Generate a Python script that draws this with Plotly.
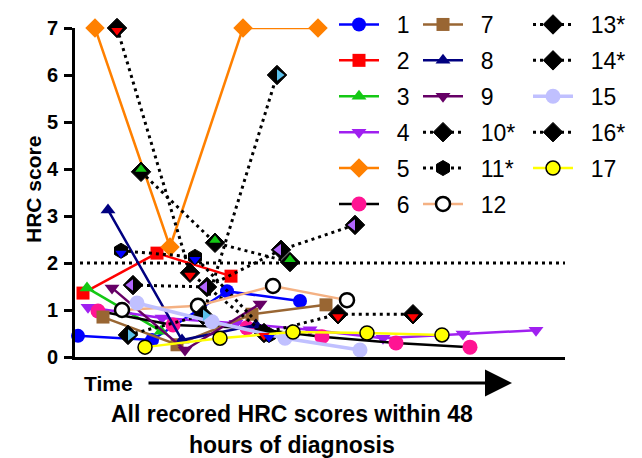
import plotly.graph_objects as go

# ---- data: time position (arbitrary hours-like units) and HRC score ----
T1 = [0.3, 7.7, 15.2, 22.5];            Y1 = [0.45, 0.36, 1.40, 1.19]
T2 = [0.8, 8.2, 15.6];                  Y2 = [1.36, 2.21, 1.72]
T3 = [1.2, 8.6];                        Y3 = [1.47, 0.55]
T4 = [1.3, 8.7, 16.1, 23.5, 30.8, 38.8, 46.1]; Y4 = [1.06, 0.83, 0.72, 0.58, 0.40, 0.49, 0.57]
T5 = [2.0, 9.5, 16.8, 24.3];            Y5 = [7.0, 2.34, 7.0, 7.0]
T6 = [2.3, 9.8, 17.2, 24.7, 32.1, 39.5]; Y6 = [0.98, 0.68, 0.62, 0.43, 0.30, 0.21]
T7 = [2.8, 10.2, 17.7, 25.1];           Y7 = [0.85, 0.26, 0.91, 1.11]
T8 = [3.3, 10.7, 18.1];                 Y8 = [3.13, 0.36, 0.68]
T9 = [3.7, 11.0, 18.5];                 Y9 = [1.47, 0.15, 1.13]
T10 = [4.2, 11.5, 18.9, 26.3, 33.8];    Y10 = [7.0, 1.79, 0.51, 0.91, 0.91]
T11 = [4.6, 12.0, 19.4];                Y11 = [2.26, 2.13, 0.47]
T12 = [4.7, 12.3, 19.8, 27.2];          Y12 = [1.00, 1.09, 1.51, 1.21]
T13 = [5.3, 12.8, 20.2];                Y13 = [0.47, 0.89, 6.0]
T14 = [5.8, 13.2, 20.6, 28.0];          Y14 = [1.53, 1.49, 2.28, 2.81]
T15 = [6.2, 13.7, 21.0, 28.5];          Y15 = [1.15, 0.75, 0.40, 0.15]
T16 = [6.6, 14.0, 21.5];                Y16 = [3.94, 2.43, 2.02]
T17 = [7.0, 14.5, 21.8, 29.2, 36.7];    Y17 = [0.21, 0.40, 0.53, 0.51, 0.47]

NAMES = ["1", "2", "3", "4", "5", "6", "7", "8", "9", "10*", "11*", "12",
         "13*", "14*", "15", "16*", "17"]
THRESHOLD = 2
Y_TICKS = [0, 1, 2, 3, 4, 5, 6, 7]

SERIES = [(T1, Y1), (T2, Y2), (T3, Y3), (T4, Y4), (T5, Y5), (T6, Y6), (T7, Y7),
          (T8, Y8), (T9, Y9), (T10, Y10), (T11, Y11), (T12, Y12), (T13, Y13),
          (T14, Y14), (T15, Y15), (T16, Y16), (T17, Y17)]

FONT = "Liberation Sans, Arial, sans-serif"
DOT = "3px,4px"
PAD = "\u00a0\u00a0"   # small gap between legend symbol and label

# style: line color, line dash, line width, marker symbol, marker fill, marker line color,
#        marker line width, size
STYLE = [
    ("#0000FF", "solid", 2.5, "circle", "#0000FF", "#0000FF", 0, 14),
    ("#FF0000", "solid", 2.5, "square", "#FF0000", "#FF0000", 0, 13),
    ("#14C814", "solid", 2.5, "triangle-up", "#14C814", "#14C814", 0, 13),
    ("#A020F0", "solid", 2.5, "triangle-down", "#A020F0", "#A020F0", 0, 13),
    ("#FF8000", "solid", 2.5, "diamond", "#FF8000", "#FF8000", 0, 15),
    ("#000000", "solid", 2.5, "circle", "#FF1493", "#FF1493", 0, 15),
    ("#996633", "solid", 2.5, "square", "#996633", "#996633", 0, 13),
    ("#000080", "solid", 2.5, "triangle-up", "#000080", "#000080", 0, 13),
    ("#660066", "solid", 2.5, "triangle-down", "#660066", "#660066", 0, 13),
    ("#000000", DOT, 3, "diamond", "#000000", "#000000", 1, 15),
    ("#000000", DOT, 3, "hexagon", "#000000", "#000000", 1, 15),
    ("#F4B183", "solid", 2.5, "circle", "#FFFFFF", "#000000", 2.5, 14),
    ("#000000", DOT, 3, "diamond", "#000000", "#000000", 1, 15),
    ("#000000", DOT, 3, "diamond", "#000000", "#000000", 1, 15),
    ("#C0C0FF", "solid", 3.5, "circle", "#C0C0FF", "#C0C0FF", 0, 15),
    ("#000000", DOT, 3, "diamond", "#000000", "#000000", 1, 15),
    ("#FFFF00", "solid", 2.5, "circle", "#FFFF00", "#000000", 1.5, 14),
]

# half-colour inner marks for the starred series: index -> (colour, symbol, xaxis, yaxis)
INNER = {
    9: ("#FF0000", "triangle-down", "x", "y2"),
    10: ("#0000FF", "triangle-down", "x", "y2"),
    12: ("#5BC0EB", "triangle-right", "x2", "y"),
    13: ("#B266FF", "triangle-left", "x3", "y"),
    15: ("#14C814", "triangle-up", "x", "y3"),
}

fig = go.Figure()
for i, ((tx, ty), name, st) in enumerate(zip(SERIES, NAMES, STYLE)):
    lc, dash, lw, sym, fill, mlc, mlw, size = st
    leg = "legend" if i < 6 else ("legend2" if i < 12 else "legend3")
    fig.add_trace(go.Scatter(
        x=tx, y=ty, name=PAD + name, mode="lines+markers",
        line=dict(color=lc, width=lw, dash=dash),
        marker=dict(symbol=sym, color=fill, size=size,
                    line=dict(color=mlc, width=mlw)),
        legend=leg, legendgroup="g%d" % i, cliponaxis=False))
for i, (c, sym, xa, ya) in INNER.items():
    tx, ty = SERIES[i]
    fig.add_trace(go.Scatter(
        x=tx, y=ty, mode="markers", xaxis=xa, yaxis=ya,
        marker=dict(symbol=sym, color=c, size=10, line=dict(width=0)),
        showlegend=False, legendgroup="g%d" % i, hoverinfo="skip",
        cliponaxis=False))

# threshold line at HRC = 2
fig.add_shape(type="line", xref="x", yref="y", x0=0.5, x1=49, y0=THRESHOLD, y1=THRESHOLD,
              line=dict(color="black", width=3, dash=DOT), layer="below")

# the page body has an 8px margin, so the figure is drawn 8px smaller
# and every reference position is measured in page pixels
XR = [0, 49]
YR = [0, 7]
DX = 0.25
DY = 0.053
axis_common = dict(visible=False, fixedrange=True)
fig.update_layout(
    width=634, height=450,
    margin=dict(l=67, r=77, t=20, b=101, autoexpand=False),
    paper_bgcolor="white", plot_bgcolor="white",
    font=dict(family=FONT, color="black"),
    showlegend=True,
    xaxis=dict(range=XR, showgrid=False, zeroline=False, showticklabels=False,
               ticks="", showline=True, linecolor="black", linewidth=3),
    yaxis=dict(range=YR, tickvals=Y_TICKS, showgrid=False, zeroline=False,
               ticks="outside", ticklen=8, tickwidth=3, tickcolor="black",
               showline=True, linecolor="black", linewidth=3,
               tickfont=dict(size=20, family=FONT, weight="bold"), ticklabelstandoff=2),
    xaxis2=dict(overlaying="x", anchor="y", range=[XR[0] - DX, XR[1] - DX], **axis_common),
    xaxis3=dict(overlaying="x", anchor="y", range=[XR[0] + DX, XR[1] + DX], **axis_common),
    yaxis2=dict(overlaying="y", anchor="x", range=[YR[0] + DY, YR[1] + DY], **axis_common),
    yaxis3=dict(overlaying="y", anchor="x", range=[YR[0] - DY, YR[1] - DY], **axis_common),
)

def px_x(p):
    return (p - 75) / 490.0

def px_y(p):
    return (357 - p) / 329.0

leg_common = dict(font=dict(size=23, family=FONT), bgcolor="rgba(0,0,0,0)",
                  xanchor="left", yanchor="top", tracegroupgap=3,
                  orientation="v", itemwidth=40, maxheight=400)
fig.update_layout(
    legend=dict(x=px_x(334), y=px_y(3), **leg_common),
    legend2=dict(x=px_x(418), y=px_y(3), **leg_common),
    legend3=dict(x=px_x(528), y=px_y(3), **leg_common),
)

fig.add_annotation(text="<b>HRC score</b>", xref="paper", yref="paper",
                   x=px_x(33), y=px_y(190), textangle=-90, showarrow=False,
                   xanchor="center", yanchor="middle",
                   font=dict(size=21, family=FONT))
fig.add_annotation(text="<b>Time</b>", xref="paper", yref="paper",
                   x=px_x(108), y=px_y(383), showarrow=False,
                   xanchor="center", yanchor="middle",
                   font=dict(size=21, family=FONT))
fig.add_annotation(text="", xref="paper", yref="paper", x=px_x(512), y=px_y(383),
                   ax=-365, ay=0, showarrow=True, arrowhead=2, arrowsize=1.8,
                   arrowwidth=3, arrowcolor="black")
fig.add_annotation(text="<b>All recored HRC scores within 48</b>", xref="paper", yref="paper",
                   x=px_x(292), y=px_y(414), showarrow=False,
                   xanchor="center", yanchor="middle",
                   font=dict(size=23, family=FONT))
fig.add_annotation(text="<b>hours of diagnosis</b>", xref="paper", yref="paper",
                   x=px_x(292), y=px_y(445), showarrow=False,
                   xanchor="center", yanchor="middle",
                   font=dict(size=23, family=FONT))

fig.write_html("out.html")
